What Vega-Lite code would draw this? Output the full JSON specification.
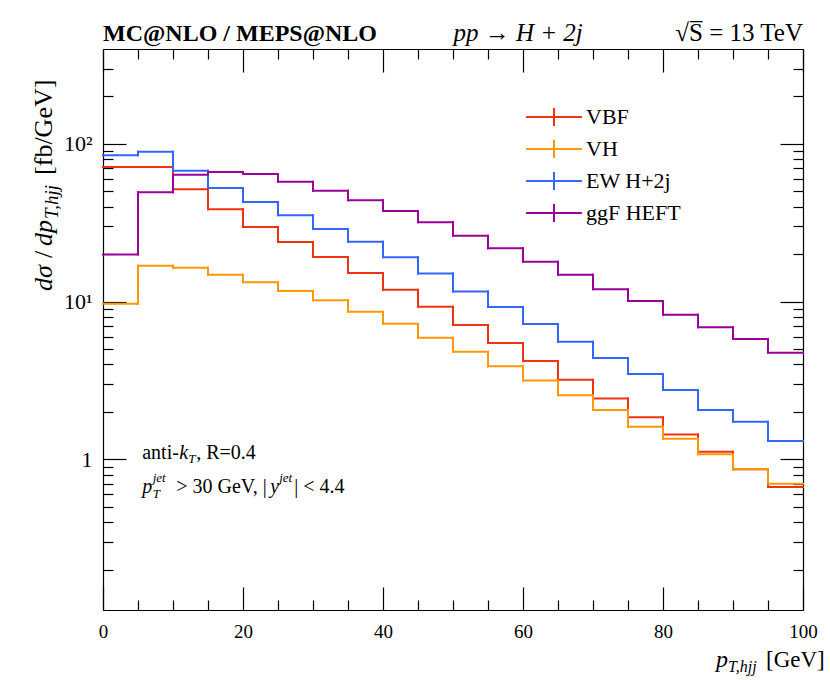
{
  "$schema": "https://vega.github.io/schema/vega-lite/v6.json",
  "width": 700,
  "height": 561,
  "autosize": "none",
  "padding": {"left": 103, "top": 49, "right": 27, "bottom": 70},
  "background": "white",
  "datasets": {
    "hist": [
      {"proc": "VBF", "lo": 0, "hi": 5, "val": 71.5},
      {"proc": "VBF", "lo": 5, "hi": 10, "val": 71.5},
      {"proc": "VBF", "lo": 10, "hi": 15, "val": 51.6},
      {"proc": "VBF", "lo": 15, "hi": 20, "val": 38.5},
      {"proc": "VBF", "lo": 20, "hi": 25, "val": 29.8},
      {"proc": "VBF", "lo": 25, "hi": 30, "val": 23.9},
      {"proc": "VBF", "lo": 30, "hi": 35, "val": 19.2},
      {"proc": "VBF", "lo": 35, "hi": 40, "val": 15.2},
      {"proc": "VBF", "lo": 40, "hi": 45, "val": 11.9},
      {"proc": "VBF", "lo": 45, "hi": 50, "val": 9.29},
      {"proc": "VBF", "lo": 50, "hi": 55, "val": 7.11},
      {"proc": "VBF", "lo": 55, "hi": 60, "val": 5.47},
      {"proc": "VBF", "lo": 60, "hi": 65, "val": 4.21},
      {"proc": "VBF", "lo": 65, "hi": 70, "val": 3.2},
      {"proc": "VBF", "lo": 70, "hi": 75, "val": 2.43},
      {"proc": "VBF", "lo": 75, "hi": 80, "val": 1.85},
      {"proc": "VBF", "lo": 80, "hi": 85, "val": 1.44},
      {"proc": "VBF", "lo": 85, "hi": 90, "val": 1.12},
      {"proc": "VBF", "lo": 90, "hi": 95, "val": 0.865},
      {"proc": "VBF", "lo": 95, "hi": 100, "val": 0.668},
      {"proc": "VH", "lo": 0, "hi": 5, "val": 9.71},
      {"proc": "VH", "lo": 5, "hi": 10, "val": 16.9},
      {"proc": "VH", "lo": 10, "hi": 15, "val": 16.4},
      {"proc": "VH", "lo": 15, "hi": 20, "val": 14.8},
      {"proc": "VH", "lo": 20, "hi": 25, "val": 13.3},
      {"proc": "VH", "lo": 25, "hi": 30, "val": 11.7},
      {"proc": "VH", "lo": 30, "hi": 35, "val": 10.2},
      {"proc": "VH", "lo": 35, "hi": 40, "val": 8.65},
      {"proc": "VH", "lo": 40, "hi": 45, "val": 7.25},
      {"proc": "VH", "lo": 45, "hi": 50, "val": 5.91},
      {"proc": "VH", "lo": 50, "hi": 55, "val": 4.82},
      {"proc": "VH", "lo": 55, "hi": 60, "val": 3.89},
      {"proc": "VH", "lo": 60, "hi": 65, "val": 3.16},
      {"proc": "VH", "lo": 65, "hi": 70, "val": 2.55},
      {"proc": "VH", "lo": 70, "hi": 75, "val": 2.06},
      {"proc": "VH", "lo": 75, "hi": 80, "val": 1.61},
      {"proc": "VH", "lo": 80, "hi": 85, "val": 1.35},
      {"proc": "VH", "lo": 85, "hi": 90, "val": 1.08},
      {"proc": "VH", "lo": 90, "hi": 95, "val": 0.865},
      {"proc": "VH", "lo": 95, "hi": 100, "val": 0.701},
      {"proc": "EW H+2j", "lo": 0, "hi": 5, "val": 84.8},
      {"proc": "EW H+2j", "lo": 5, "hi": 10, "val": 89.4},
      {"proc": "EW H+2j", "lo": 10, "hi": 15, "val": 67.7},
      {"proc": "EW H+2j", "lo": 15, "hi": 20, "val": 52.6},
      {"proc": "EW H+2j", "lo": 20, "hi": 25, "val": 42.9},
      {"proc": "EW H+2j", "lo": 25, "hi": 30, "val": 35.3},
      {"proc": "EW H+2j", "lo": 30, "hi": 35, "val": 28.9},
      {"proc": "EW H+2j", "lo": 35, "hi": 40, "val": 24.0},
      {"proc": "EW H+2j", "lo": 40, "hi": 45, "val": 19.1},
      {"proc": "EW H+2j", "lo": 45, "hi": 50, "val": 15.1},
      {"proc": "EW H+2j", "lo": 50, "hi": 55, "val": 11.6},
      {"proc": "EW H+2j", "lo": 55, "hi": 60, "val": 9.25},
      {"proc": "EW H+2j", "lo": 60, "hi": 65, "val": 7.22},
      {"proc": "EW H+2j", "lo": 65, "hi": 70, "val": 5.58},
      {"proc": "EW H+2j", "lo": 70, "hi": 75, "val": 4.4},
      {"proc": "EW H+2j", "lo": 75, "hi": 80, "val": 3.48},
      {"proc": "EW H+2j", "lo": 80, "hi": 85, "val": 2.75},
      {"proc": "EW H+2j", "lo": 85, "hi": 90, "val": 2.06},
      {"proc": "EW H+2j", "lo": 90, "hi": 95, "val": 1.73},
      {"proc": "EW H+2j", "lo": 95, "hi": 100, "val": 1.31},
      {"proc": "ggF HEFT", "lo": 0, "hi": 5, "val": 19.9},
      {"proc": "ggF HEFT", "lo": 5, "hi": 10, "val": 49.4},
      {"proc": "ggF HEFT", "lo": 10, "hi": 15, "val": 63.9},
      {"proc": "ggF HEFT", "lo": 15, "hi": 20, "val": 66.4},
      {"proc": "ggF HEFT", "lo": 20, "hi": 25, "val": 64.5},
      {"proc": "ggF HEFT", "lo": 25, "hi": 30, "val": 57.7},
      {"proc": "ggF HEFT", "lo": 30, "hi": 35, "val": 50.5},
      {"proc": "ggF HEFT", "lo": 35, "hi": 40, "val": 44.0},
      {"proc": "ggF HEFT", "lo": 40, "hi": 45, "val": 37.6},
      {"proc": "ggF HEFT", "lo": 45, "hi": 50, "val": 31.9},
      {"proc": "ggF HEFT", "lo": 50, "hi": 55, "val": 26.2},
      {"proc": "ggF HEFT", "lo": 55, "hi": 60, "val": 21.8},
      {"proc": "ggF HEFT", "lo": 60, "hi": 65, "val": 17.9},
      {"proc": "ggF HEFT", "lo": 65, "hi": 70, "val": 14.8},
      {"proc": "ggF HEFT", "lo": 70, "hi": 75, "val": 12.0},
      {"proc": "ggF HEFT", "lo": 75, "hi": 80, "val": 10.1},
      {"proc": "ggF HEFT", "lo": 80, "hi": 85, "val": 8.27},
      {"proc": "ggF HEFT", "lo": 85, "hi": 90, "val": 6.88},
      {"proc": "ggF HEFT", "lo": 90, "hi": 95, "val": 5.8},
      {"proc": "ggF HEFT", "lo": 95, "hi": 100, "val": 4.75}
    ],
    "one": [{}]
  },
  "config": {
    "view": {"stroke": null},
    "font": "Liberation Serif",
    "axis": {
      "grid": false,
      "domainColor": "#000",
      "domainWidth": 1.2,
      "tickColor": "#000",
      "tickWidth": 1.2,
      "labelFont": "Liberation Serif",
      "labelFontSize": 19,
      "labelColor": "#000",
      "title": null
    },
    "text": {"font": "Liberation Serif", "color": "#000", "baseline": "alphabetic", "align": "left"}
  },
  "resolve": {"axis": {"x": "independent", "y": "independent"}},
  "layer": [
    {
      "data": {"name": "hist"},
      "mark": {"type": "rule", "strokeWidth": 2, "strokeCap": "square"},
      "encoding": {
        "x": {
          "field": "lo",
          "type": "quantitative",
          "title": null,
          "scale": {"domain": [0, 100], "nice": false, "zero": false},
          "axis": {
            "orient": "bottom",
            "values": [0, 5, 10, 15, 20, 25, 30, 35, 40, 45, 50, 55, 60, 65, 70, 75, 80, 85, 90, 95, 100],
            "labelExpr": "datum.value % 20 == 0 ? datum.label : ''",
            "tickSize": {"condition": {"test": "datum.value % 20 == 0", "value": -23}, "value": -10},
            "labelPadding": 35,
            "labelBaseline": "top",
            "labelFlush": false
          }
        },
        "x2": {"field": "hi"},
        "y": {
          "field": "val",
          "type": "quantitative",
          "title": null,
          "scale": {"type": "log", "domain": [0.111, 400], "nice": false},
          "axis": {
            "orient": "left",
            "values": [0.2, 0.3, 0.4, 0.5, 0.6, 0.7, 0.8, 0.9, 1, 2, 3, 4, 5, 6, 7, 8, 9, 10, 20, 30, 40, 50, 60, 70, 80, 90, 100, 200, 300],
            "labelExpr": "datum.value == 100 ? '10²' : datum.value == 10 ? '10¹' : datum.value == 1 ? '1' : ''",
            "tickSize": {"condition": {"test": "datum.value == 1 || datum.value == 10 || datum.value == 100", "value": -23}, "value": -10},
            "labelPadding": 34,
            "labelFontSize": 22,
            "labelFlush": false
          }
        },
        "color": {
          "field": "proc",
          "type": "nominal",
          "scale": {
            "domain": ["VBF", "VH", "EW H+2j", "ggF HEFT"],
            "range": ["#EE3311", "#FF9900", "#3366FF", "#990099"]
          },
          "legend": {
            "orient": "none",
            "legendX": 440,
            "legendY": 57,
            "title": null,
            "symbolType": "M-3.1,0H3.1M0,-1V1",
            "symbolSize": 324,
            "symbolStrokeWidth": 2,
            "labelFont": "Liberation Serif",
            "labelFontSize": 22,
            "labelColor": "#000",
            "labelOffset": 21,
            "rowPadding": 6
          }
        }
      }
    },
    {
      "data": {"name": "hist"},
      "transform": [
        {"window": [{"op": "lag", "field": "val", "as": "prev"}], "groupby": ["proc"], "sort": [{"field": "lo"}]},
        {"filter": "datum.prev != null"}
      ],
      "mark": {"type": "rule", "strokeWidth": 2, "strokeCap": "square"},
      "encoding": {
        "x": {
          "field": "lo",
          "type": "quantitative",
          "axis": {
            "orient": "top",
            "values": [0, 5, 10, 15, 20, 25, 30, 35, 40, 45, 50, 55, 60, 65, 70, 75, 80, 85, 90, 95, 100],
            "labels": false,
            "title": null,
            "tickSize": {"condition": {"test": "datum.value % 20 == 0", "value": -23}, "value": -10}
          }
        },
        "y": {
          "field": "prev",
          "type": "quantitative",
          "axis": {
            "orient": "right",
            "values": [0.2, 0.3, 0.4, 0.5, 0.6, 0.7, 0.8, 0.9, 1, 2, 3, 4, 5, 6, 7, 8, 9, 10, 20, 30, 40, 50, 60, 70, 80, 90, 100, 200, 300],
            "labels": false,
            "title": null,
            "tickSize": {"condition": {"test": "datum.value == 1 || datum.value == 10 || datum.value == 100", "value": -23}, "value": -10}
          }
        },
        "y2": {"field": "val"},
        "color": {"field": "proc", "type": "nominal", "legend": null}
      }
    },
    {
      "data": {"name": "one"},
      "mark": {"type": "text", "text": "MC@NLO / MEPS@NLO", "fontSize": 24, "fontWeight": "bold"},
      "encoding": {
        "x": {"datum": 0, "type": "quantitative", "axis": null},
        "y": {"datum": 450, "type": "quantitative", "axis": null}
      }
    },
    {
      "data": {"name": "one"},
      "mark": {"type": "text", "text": "pp → H + 2j", "align": "center", "fontSize": 25, "fontStyle": "italic"},
      "encoding": {
        "x": {"datum": 59.3, "type": "quantitative", "axis": null},
        "y": {"datum": 450, "type": "quantitative", "axis": null}
      }
    },
    {
      "data": {"name": "one"},
      "mark": {"type": "text", "text": "√S̅ = 13 TeV", "align": "right", "fontSize": 25},
      "encoding": {
        "x": {"datum": 100, "type": "quantitative", "axis": null},
        "y": {"datum": 450, "type": "quantitative", "axis": null}
      }
    },
    {
      "data": {"name": "one"},
      "mark": {"type": "text", "text": "dσ", "angle": -90, "fontSize": 26, "fontStyle": "italic"},
      "encoding": {
        "x": {"datum": -7.29, "type": "quantitative", "axis": null},
        "y": {"datum": 11.7, "type": "quantitative", "axis": null}
      }
    },
    {
      "data": {"name": "one"},
      "mark": {"type": "text", "text": "/", "angle": -90, "fontSize": 26, "dx": 33},
      "encoding": {
        "x": {"datum": -7.29, "type": "quantitative", "axis": null},
        "y": {"datum": 11.7, "type": "quantitative", "axis": null}
      }
    },
    {
      "data": {"name": "one"},
      "mark": {"type": "text", "text": "dp", "angle": -90, "fontSize": 26, "fontStyle": "italic", "dx": 45},
      "encoding": {
        "x": {"datum": -7.29, "type": "quantitative", "axis": null},
        "y": {"datum": 11.7, "type": "quantitative", "axis": null}
      }
    },
    {
      "data": {"name": "one"},
      "mark": {"type": "text", "text": "T,hjj", "angle": -90, "fontSize": 19, "fontStyle": "italic", "dx": 72, "dy": 6},
      "encoding": {
        "x": {"datum": -7.29, "type": "quantitative", "axis": null},
        "y": {"datum": 11.7, "type": "quantitative", "axis": null}
      }
    },
    {
      "data": {"name": "one"},
      "mark": {"type": "text", "text": "[fb/GeV]", "angle": -90, "fontSize": 26, "dx": 116},
      "encoding": {
        "x": {"datum": -7.29, "type": "quantitative", "axis": null},
        "y": {"datum": 11.7, "type": "quantitative", "axis": null}
      }
    },
    {
      "data": {"name": "one"},
      "mark": {"type": "text", "text": "p", "fontSize": 24, "fontStyle": "italic"},
      "encoding": {
        "x": {"datum": 87.57, "type": "quantitative", "axis": null},
        "y": {"datum": 0.0483, "type": "quantitative", "axis": null}
      }
    },
    {
      "data": {"name": "one"},
      "mark": {"type": "text", "text": "T,hjj", "fontSize": 16, "fontStyle": "italic", "dx": 12, "dy": 5},
      "encoding": {
        "x": {"datum": 87.57, "type": "quantitative", "axis": null},
        "y": {"datum": 0.0483, "type": "quantitative", "axis": null}
      }
    },
    {
      "data": {"name": "one"},
      "mark": {"type": "text", "text": "[GeV]", "fontSize": 23, "dx": 50},
      "encoding": {
        "x": {"datum": 87.57, "type": "quantitative", "axis": null},
        "y": {"datum": 0.0483, "type": "quantitative", "axis": null}
      }
    },
    {
      "data": {"name": "one"},
      "mark": {"type": "text", "text": "anti-", "fontSize": 20},
      "encoding": {
        "x": {"datum": 5.6, "type": "quantitative", "axis": null},
        "y": {"datum": 1, "type": "quantitative", "axis": null}
      }
    },
    {
      "data": {"name": "one"},
      "mark": {"type": "text", "text": "k", "fontSize": 20, "fontStyle": "italic", "dx": 37},
      "encoding": {
        "x": {"datum": 5.6, "type": "quantitative", "axis": null},
        "y": {"datum": 1, "type": "quantitative", "axis": null}
      }
    },
    {
      "data": {"name": "one"},
      "mark": {"type": "text", "text": "T", "fontSize": 13, "fontStyle": "italic", "dx": 46, "dy": 4},
      "encoding": {
        "x": {"datum": 5.6, "type": "quantitative", "axis": null},
        "y": {"datum": 1, "type": "quantitative", "axis": null}
      }
    },
    {
      "data": {"name": "one"},
      "mark": {"type": "text", "text": ", R=0.4", "fontSize": 20, "dx": 54},
      "encoding": {
        "x": {"datum": 5.6, "type": "quantitative", "axis": null},
        "y": {"datum": 1, "type": "quantitative", "axis": null}
      }
    },
    {
      "data": {"name": "one"},
      "mark": {"type": "text", "text": "p", "fontSize": 20, "fontStyle": "italic", "dy": 34},
      "encoding": {
        "x": {"datum": 5.6, "type": "quantitative", "axis": null},
        "y": {"datum": 1, "type": "quantitative", "axis": null}
      }
    },
    {
      "data": {"name": "one"},
      "mark": {"type": "text", "text": "T", "fontSize": 13, "fontStyle": "italic", "dx": 10.5, "dy": 39},
      "encoding": {
        "x": {"datum": 5.6, "type": "quantitative", "axis": null},
        "y": {"datum": 1, "type": "quantitative", "axis": null}
      }
    },
    {
      "data": {"name": "one"},
      "mark": {"type": "text", "text": "jet", "fontSize": 13, "fontStyle": "italic", "dx": 10.5, "dy": 23},
      "encoding": {
        "x": {"datum": 5.6, "type": "quantitative", "axis": null},
        "y": {"datum": 1, "type": "quantitative", "axis": null}
      }
    },
    {
      "data": {"name": "one"},
      "mark": {"type": "text", "text": "> 30 GeV, |", "fontSize": 20, "dx": 34, "dy": 34},
      "encoding": {
        "x": {"datum": 5.6, "type": "quantitative", "axis": null},
        "y": {"datum": 1, "type": "quantitative", "axis": null}
      }
    },
    {
      "data": {"name": "one"},
      "mark": {"type": "text", "text": "y", "fontSize": 20, "fontStyle": "italic", "dx": 128, "dy": 34},
      "encoding": {
        "x": {"datum": 5.6, "type": "quantitative", "axis": null},
        "y": {"datum": 1, "type": "quantitative", "axis": null}
      }
    },
    {
      "data": {"name": "one"},
      "mark": {"type": "text", "text": "jet", "fontSize": 13, "fontStyle": "italic", "dx": 137, "dy": 23},
      "encoding": {
        "x": {"datum": 5.6, "type": "quantitative", "axis": null},
        "y": {"datum": 1, "type": "quantitative", "axis": null}
      }
    },
    {
      "data": {"name": "one"},
      "mark": {"type": "text", "text": "| < 4.4", "fontSize": 20, "dx": 152, "dy": 34},
      "encoding": {
        "x": {"datum": 5.6, "type": "quantitative", "axis": null},
        "y": {"datum": 1, "type": "quantitative", "axis": null}
      }
    }
  ]
}
